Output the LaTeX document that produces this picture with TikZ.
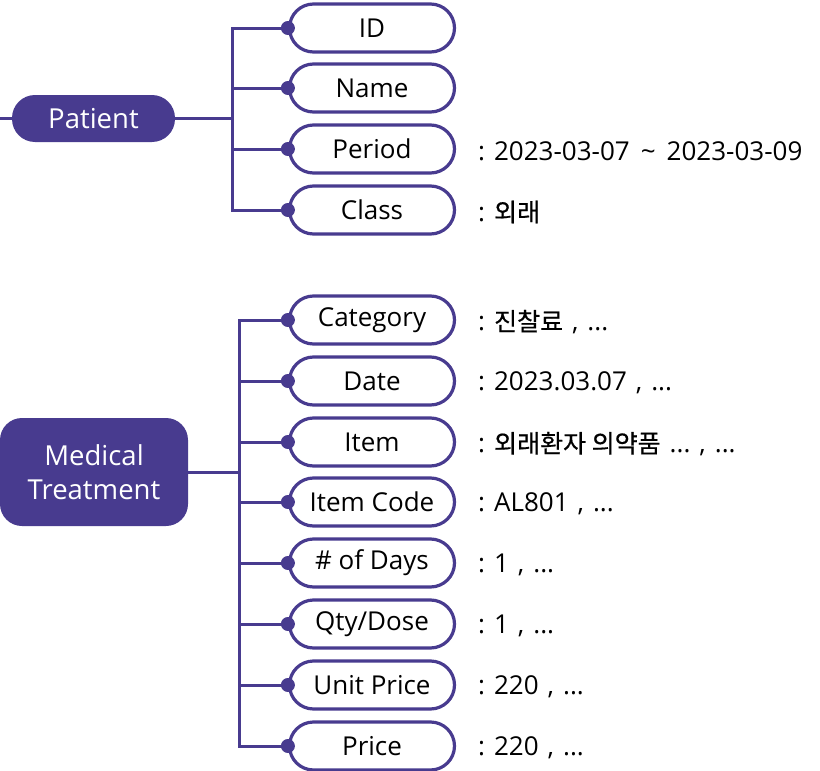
\documentclass[tikz,border=0pt]{standalone}
\usepackage{fontspec}
\setmainfont{Open Sans}
\newfontfamily\kr{Noto Sans CJK KR}[FakeBold=0.6]
\newcommand\gap{\hspace{9pt}}
\definecolor{pur}{RGB}{72,59,143}
\begin{document}
\begin{tikzpicture}[x=1pt,y=-1pt,
  fieldbox/.style={draw=pur,line width=3.2pt,fill=white,rounded corners=24pt,
    minimum width=165pt,minimum height=48pt,inner sep=0pt,font=\fontsize{26}{28}\selectfont},
  headbox/.style={fill=pur,text=white,inner sep=0pt,align=center,font=\fontsize{27.5}{34}\selectfont},
  conn/.style={draw=pur,line width=3pt},
  valtext/.style={anchor=west,inner sep=0pt,font=\fontsize{26}{28}\selectfont},
  krtext/.style={font=\kr\fontsize{25}{28}\selectfont},
  dot/.style={fill=pur}]
\useasboundingbox (0,0) rectangle (820,771);
% Patient
\node[headbox,rounded corners=23pt,minimum width=163pt,minimum height=47pt] (pat) at (93.5,118.5) {Patient};
\coordinate (patstub) at (0,118.5);
\draw[conn] (patstub) -- (pat.west);
\foreach \n/\t/\y in {id/ID/28,name/Name/88,period/Period/149,class/Class/210}{
  \node[fieldbox] (\n) at (372,\y) {\t};
  \draw[conn] (pat.east) -- ++(57,0) |- (\n.west);
  \fill[dot] (\n.west) circle (7);
}
\node[valtext] (v1) at (478,151) {: 2023-03-07\hspace{11pt}\textasciitilde\hspace{11pt}2023-03-09};
\node[valtext] (v2) at (478,212) {: {\kr\fontsize{25}{28}\selectfont 외래}};
% Medical Treatment
\node[headbox,rounded corners=22pt,minimum width=188pt,minimum height=108pt] (med) at (94,472) {Medical\\Treatment};
\foreach \n/\t/\y in {cat/Category/320,date/Date/381,item/Item/442,code/Item Code/502,days/\# of Days/563,qty/{Qty/Dose}/624,unit/Unit Price/685,price/Price/746}{
  \node[fieldbox] (\n) at (372,\y) {\t};
  \draw[conn] (med.east) -- ++(51,0) |- (\n.west);
  \fill[dot] (\n.west) circle (7);
}
\node[valtext] (v3) at (478,322) {: {\kr\fontsize{25}{28}\selectfont 진찰료}\gap,\gap...};
\node[valtext] (v4) at (478,383) {: 2023.03.07\gap,\gap...};
\node[valtext] (v5) at (478,444) {: {\kr\fontsize{25}{28}\selectfont 외래환자 의약품}\gap...\gap,\gap...};
\node[valtext] (v6) at (478,504) {: AL801\gap,\gap...};
\node[valtext] (v7) at (478,565) {: 1\gap,\gap...};
\node[valtext] (v8) at (478,626) {: 1\gap,\gap...};
\node[valtext] (v9) at (478,687) {: 220\gap,\gap...};
\node[valtext] (v10) at (478,748) {: 220\gap,\gap...};
\end{tikzpicture}
\end{document}
